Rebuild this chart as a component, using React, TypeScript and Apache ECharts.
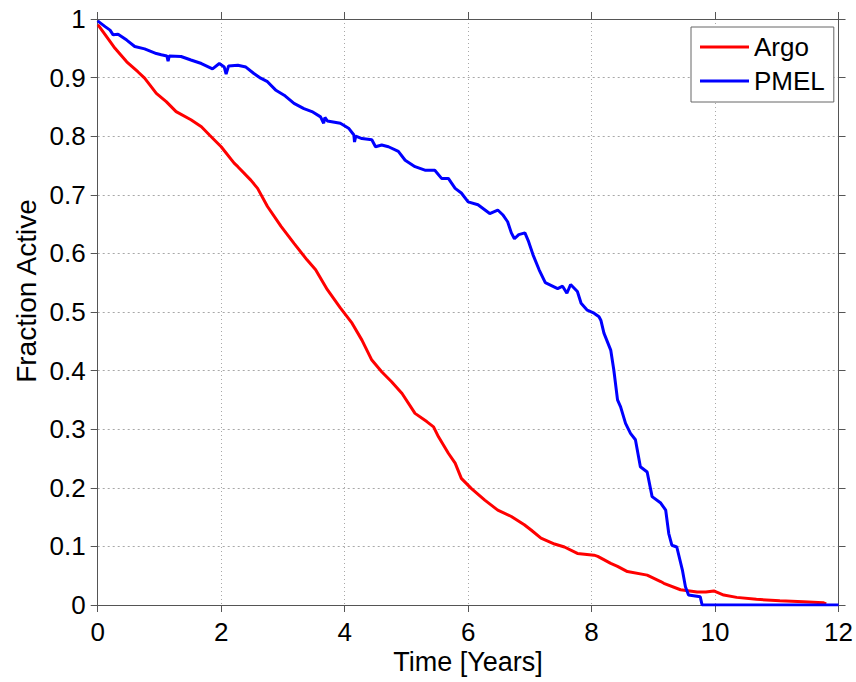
import React, { useEffect, useRef } from "react";
import * as echarts from "echarts";

const xTicks = [0, 2, 4, 6, 8, 10, 12];
const seriesNames = ["Argo", "PMEL"];

const argoTime = [
  0, 0.02, 0.17, 0.28, 0.47, 0.65, 0.76, 0.95, 1.11, 1.27, 1.51, 1.68, 1.81, 2.0, 2.21, 2.27, 2.48, 2.59, 2.75,
  2.97, 3.18, 3.39, 3.53, 3.72, 3.93, 4.12, 4.28, 4.44, 4.6, 4.76, 4.93, 5.14, 5.33, 5.44, 5.52, 5.68, 5.79,
  5.89, 6.05, 6.27, 6.48, 6.7, 6.91, 7.02, 7.18, 7.4, 7.56, 7.77, 8.04, 8.1, 8.31, 8.42, 8.58, 8.9, 9.12, 9.17,
  9.44, 9.71, 9.85, 9.98, 10.14, 10.35, 10.67, 11.05, 11.43, 11.75, 11.8,
];
const argoFraction = [
  0.99, 0.988, 0.966, 0.95, 0.927, 0.91, 0.899, 0.873, 0.859, 0.842, 0.828, 0.816, 0.802, 0.782, 0.754, 0.748,
  0.725, 0.711, 0.68, 0.646, 0.617, 0.589, 0.572, 0.538, 0.507, 0.481, 0.452, 0.418, 0.398, 0.381, 0.361, 0.327,
  0.313, 0.304, 0.287, 0.259, 0.242, 0.216, 0.199, 0.179, 0.162, 0.151, 0.137, 0.128, 0.114, 0.104, 0.099, 0.088,
  0.085, 0.083, 0.071, 0.066, 0.057, 0.051, 0.04, 0.037, 0.026, 0.022, 0.022, 0.024, 0.017, 0.013, 0.0097,
  0.0073, 0.0057, 0.004, 0.002,
];

const pmelTime = [
  0, 0.02, 0.12, 0.2, 0.25, 0.33, 0.47, 0.6, 0.76, 0.95, 1.03, 1.12, 1.14, 1.16, 1.35, 1.51, 1.68, 1.86, 1.97,
  2.05, 2.08, 2.12, 2.27, 2.4, 2.53, 2.64, 2.75, 2.88, 3.02, 3.18, 3.34, 3.47, 3.61, 3.66, 3.68, 3.72, 3.93,
  4.07, 4.15, 4.16, 4.18, 4.28, 4.44, 4.5, 4.6, 4.71, 4.87, 4.98, 5.14, 5.3, 5.46, 5.57, 5.68, 5.79, 5.89, 6.0,
  6.16, 6.35, 6.48, 6.56, 6.64, 6.7, 6.75, 6.82, 6.92, 6.98, 7.05, 7.15, 7.25, 7.35, 7.45, 7.53, 7.6, 7.66,
  7.77, 7.83, 7.93, 8.04, 8.12, 8.15, 8.2, 8.31, 8.36, 8.42, 8.47, 8.55, 8.63, 8.71, 8.79, 8.9, 8.98, 9.12,
  9.2, 9.25, 9.3, 9.38, 9.47, 9.52, 9.57, 9.76, 9.79, 12,
];
const pmelFraction = [
  0.997, 0.995, 0.987, 0.981, 0.973, 0.974, 0.964, 0.953, 0.949, 0.941, 0.939, 0.937, 0.928, 0.937, 0.936,
  0.93, 0.924, 0.915, 0.924, 0.918, 0.906, 0.92, 0.921, 0.918, 0.907, 0.899, 0.893, 0.879, 0.87, 0.856, 0.847,
  0.842, 0.833, 0.822, 0.832, 0.826, 0.822, 0.813, 0.802, 0.79, 0.8, 0.796, 0.794, 0.782, 0.785, 0.782, 0.774,
  0.759, 0.748, 0.742, 0.742, 0.728, 0.728, 0.711, 0.703, 0.688, 0.683, 0.668, 0.674, 0.666, 0.654, 0.635,
  0.625, 0.632, 0.635, 0.62, 0.598, 0.572, 0.55, 0.545, 0.54, 0.544, 0.532, 0.547, 0.535, 0.515, 0.503, 0.498,
  0.492, 0.486, 0.464, 0.435, 0.401, 0.35, 0.338, 0.31, 0.293, 0.282, 0.236, 0.227, 0.185, 0.174, 0.162,
  0.122, 0.102, 0.099, 0.06, 0.031, 0.017, 0.014, 0, 0,
];

const FONT = "Liberation Sans, Arial, Helvetica, sans-serif";
const AXIS_COLOR = "#555";

export default function App() {
  const ref = useRef<HTMLDivElement>(null);

  useEffect(() => {
    if (!ref.current) return;
    const chart = echarts.init(ref.current, null, { renderer: "svg" });

    const argoData = argoTime.map((t, i) => [t, argoFraction[i]]);
    const pmelData = pmelTime.map((t, i) => [t, pmelFraction[i]]);

    const baseX = {
      type: "value",
      min: xTicks[0],
      max: xTicks[xTicks.length - 1],
      interval: xTicks[1] - xTicks[0],
      axisLine: { show: true, onZero: false, lineStyle: { color: AXIS_COLOR, width: 1 } },
      axisTick: { show: true, inside: false, length: 7, lineStyle: { color: AXIS_COLOR } },
    };
    const baseY = {
      type: "value",
      min: 0,
      max: 1,
      interval: 0.1,
      axisLine: { show: true, onZero: false, lineStyle: { color: AXIS_COLOR, width: 1 } },
      axisTick: { show: true, inside: false, length: 7, lineStyle: { color: AXIS_COLOR } },
    };

    chart.setOption({
      animation: false,
      backgroundColor: "#ffffff",
      textStyle: { fontFamily: FONT },
      grid: { left: 97.7, right: 13.7, top: 19, bottom: 77, containLabel: false },
      xAxis: [
        {
          ...baseX,
          position: "bottom",
          axisLabel: { show: true, color: "#000", fontSize: 26, fontFamily: FONT, margin: 14 },
          splitLine: { show: true, lineStyle: { color: "#a8a8a8", type: [1, 3], width: 1 } },
        },
        {
          ...baseX,
          position: "top",
          axisLabel: { show: false },
          splitLine: { show: false },
        },
      ],
      yAxis: [
        {
          ...baseY,
          position: "left",
          axisLabel: { show: true, color: "#000", fontSize: 26, fontFamily: FONT, margin: 12 },
          splitLine: { show: true, lineStyle: { color: "#a8a8a8", type: [2, 3], width: 1 } },
        },
        {
          ...baseY,
          position: "right",
          axisLabel: { show: false },
          splitLine: { show: false },
        },
      ],
      legend: {
        show: true,
        orient: "vertical",
        left: 691,
        top: 27,
        padding: [7, 9, 8, 9],
        itemGap: 8,
        itemWidth: 49,
        itemHeight: 3,
        icon: "rect",
        backgroundColor: "#fff",
        borderColor: "#666",
        borderWidth: 1,
        borderRadius: 0,
        textStyle: { color: "#000", fontSize: 26, fontFamily: FONT, lineHeight: 26 },
        data: seriesNames,
      },
      graphic: [
        {
          type: "text",
          x: 468,
          y: 662,
          style: {
            text: "Time [Years]",
            fontSize: 27,
            fontFamily: FONT,
            fill: "#000",
            textAlign: "center",
            textVerticalAlign: "middle",
          },
        },
        {
          type: "text",
          x: 26,
          y: 291,
          rotation: Math.PI / 2,
          style: {
            text: "Fraction Active",
            fontSize: 28,
            fontFamily: FONT,
            fill: "#000",
            textAlign: "center",
            textVerticalAlign: "middle",
          },
        },
      ],
      series: [
        {
          name: seriesNames[0],
          type: "line",
          data: argoData,
          showSymbol: false,
          symbol: "none",
          lineStyle: { color: "#ff0000", width: 3 },
          itemStyle: { color: "#ff0000" },
          z: 3,
        },
        {
          name: seriesNames[1],
          type: "line",
          data: pmelData,
          showSymbol: false,
          symbol: "none",
          lineStyle: { color: "#0000ff", width: 3 },
          itemStyle: { color: "#0000ff" },
          z: 4,
        },
      ],
    });

    return () => chart.dispose();
  }, []);

  return (
    <div
      ref={ref}
      style={{ position: "absolute", left: 0, top: 0, width: 856, height: 682, background: "#fff" }}
    />
  );
}
